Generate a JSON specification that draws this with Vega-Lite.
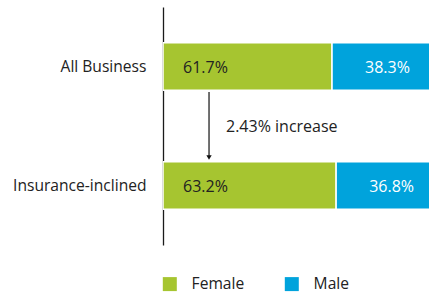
{
  "$schema": "https://vega.github.io/schema/vega-lite/v6.json",
  "autosize": {"type": "none"},
  "padding": {"left": 163, "top": 7, "right": 0, "bottom": 50},
  "width": 266,
  "height": 238,
  "background": "white",
  "config": {
    "view": {"stroke": null},
    "font": "Open Sans",
    "text": {"font": "Open Sans"}
  },
  "datasets": {
    "shares": [
      {"cat": "All Business", "gender": "Female", "pct": 0.617},
      {"cat": "All Business", "gender": "Male", "pct": 0.383},
      {"cat": "Insurance-inclined", "gender": "Female", "pct": 0.632},
      {"cat": "Insurance-inclined", "gender": "Male", "pct": 0.368}
    ],
    "note": [
      {"from": "All Business", "to": "Insurance-inclined", "label": "2.43% increase"}
    ]
  },
  "layer": [
    {
      "data": {"name": "shares"},
      "mark": {"type": "bar", "clip": true, "stroke": "white", "strokeWidth": 1.5},
      "encoding": {
        "y": {
          "field": "cat", "type": "nominal", "title": null,
          "sort": ["All Business", "Insurance-inclined"],
          "scale": {"paddingInner": 0.6, "paddingOuter": 0.3},
          "axis": {
            "domain": true, "domainColor": "#1a1a1a", "domainWidth": 1.3,
            "ticks": false, "labelPadding": 17, "labelFont": "Open Sans",
            "labelFontSize": 15.6, "labelColor": "#222222", "grid": false
          }
        },
        "x": {
          "field": "pct", "type": "quantitative", "stack": "zero",
          "scale": {"domain": [0, 0.971], "nice": false},
          "axis": null
        },
        "color": {
          "field": "gender", "type": "nominal",
          "scale": {"domain": ["Female", "Male"], "range": ["#a6c530", "#00a3dc"]},
          "legend": {
            "title": null, "orient": "none", "legendX": -1, "legendY": 269,
            "direction": "horizontal", "symbolType": "square", "symbolSize": 196,
            "symbolStrokeWidth": 0, "labelFont": "Open Sans", "labelFontSize": 15.6,
            "labelColor": "#222222", "labelOffset": 14, "columnPadding": 39, "padding": 0
          }
        }
      }
    },
    {
      "data": {"name": "shares"},
      "transform": [
        {"stack": "pct", "groupby": ["cat"], "sort": [{"field": "gender"}], "as": ["x0", "x1"]},
        {"filter": "datum.gender === 'Female'"}
      ],
      "mark": {"type": "text", "align": "left", "baseline": "middle", "dx": 20, "dy": 1, "fontSize": 16, "color": "#222222"},
      "encoding": {
        "y": {"field": "cat", "type": "nominal", "sort": ["All Business", "Insurance-inclined"]},
        "x": {"field": "x0", "type": "quantitative"},
        "text": {"field": "pct", "type": "quantitative", "format": ".1%"}
      }
    },
    {
      "data": {"name": "shares"},
      "transform": [
        {"stack": "pct", "groupby": ["cat"], "sort": [{"field": "gender"}], "as": ["x0", "x1"]},
        {"filter": "datum.gender === 'Male'"}
      ],
      "mark": {"type": "text", "align": "left", "baseline": "middle", "dx": 33, "dy": 1, "fontSize": 16, "color": "white"},
      "encoding": {
        "y": {"field": "cat", "type": "nominal", "sort": ["All Business", "Insurance-inclined"]},
        "x": {"field": "x0", "type": "quantitative"},
        "text": {"field": "pct", "type": "quantitative", "format": ".1%"}
      }
    },
    {
      "data": {"name": "note"},
      "mark": {"type": "rule", "color": "#111111", "strokeWidth": 1.2, "yOffset": 25.5, "y2Offset": -29},
      "encoding": {
        "x": {"datum": 0.168, "type": "quantitative"},
        "y": {"field": "from", "type": "nominal", "sort": ["All Business", "Insurance-inclined"]},
        "y2": {"field": "to"}
      }
    },
    {
      "data": {"name": "note"},
      "mark": {"type": "point", "shape": "triangle-down", "filled": true, "color": "#111111", "opacity": 1, "size": 28, "yOffset": -28},
      "encoding": {
        "x": {"datum": 0.168, "type": "quantitative"},
        "y": {"field": "to", "type": "nominal", "sort": ["All Business", "Insurance-inclined"]}
      }
    },
    {
      "data": {"name": "note"},
      "mark": {"type": "text", "align": "left", "baseline": "middle", "fontSize": 16, "color": "#222222", "dx": 17, "dy": 60},
      "encoding": {
        "x": {"datum": 0.168, "type": "quantitative"},
        "y": {"field": "from", "type": "nominal", "sort": ["All Business", "Insurance-inclined"]},
        "text": {"field": "label"}
      }
    }
  ]
}
